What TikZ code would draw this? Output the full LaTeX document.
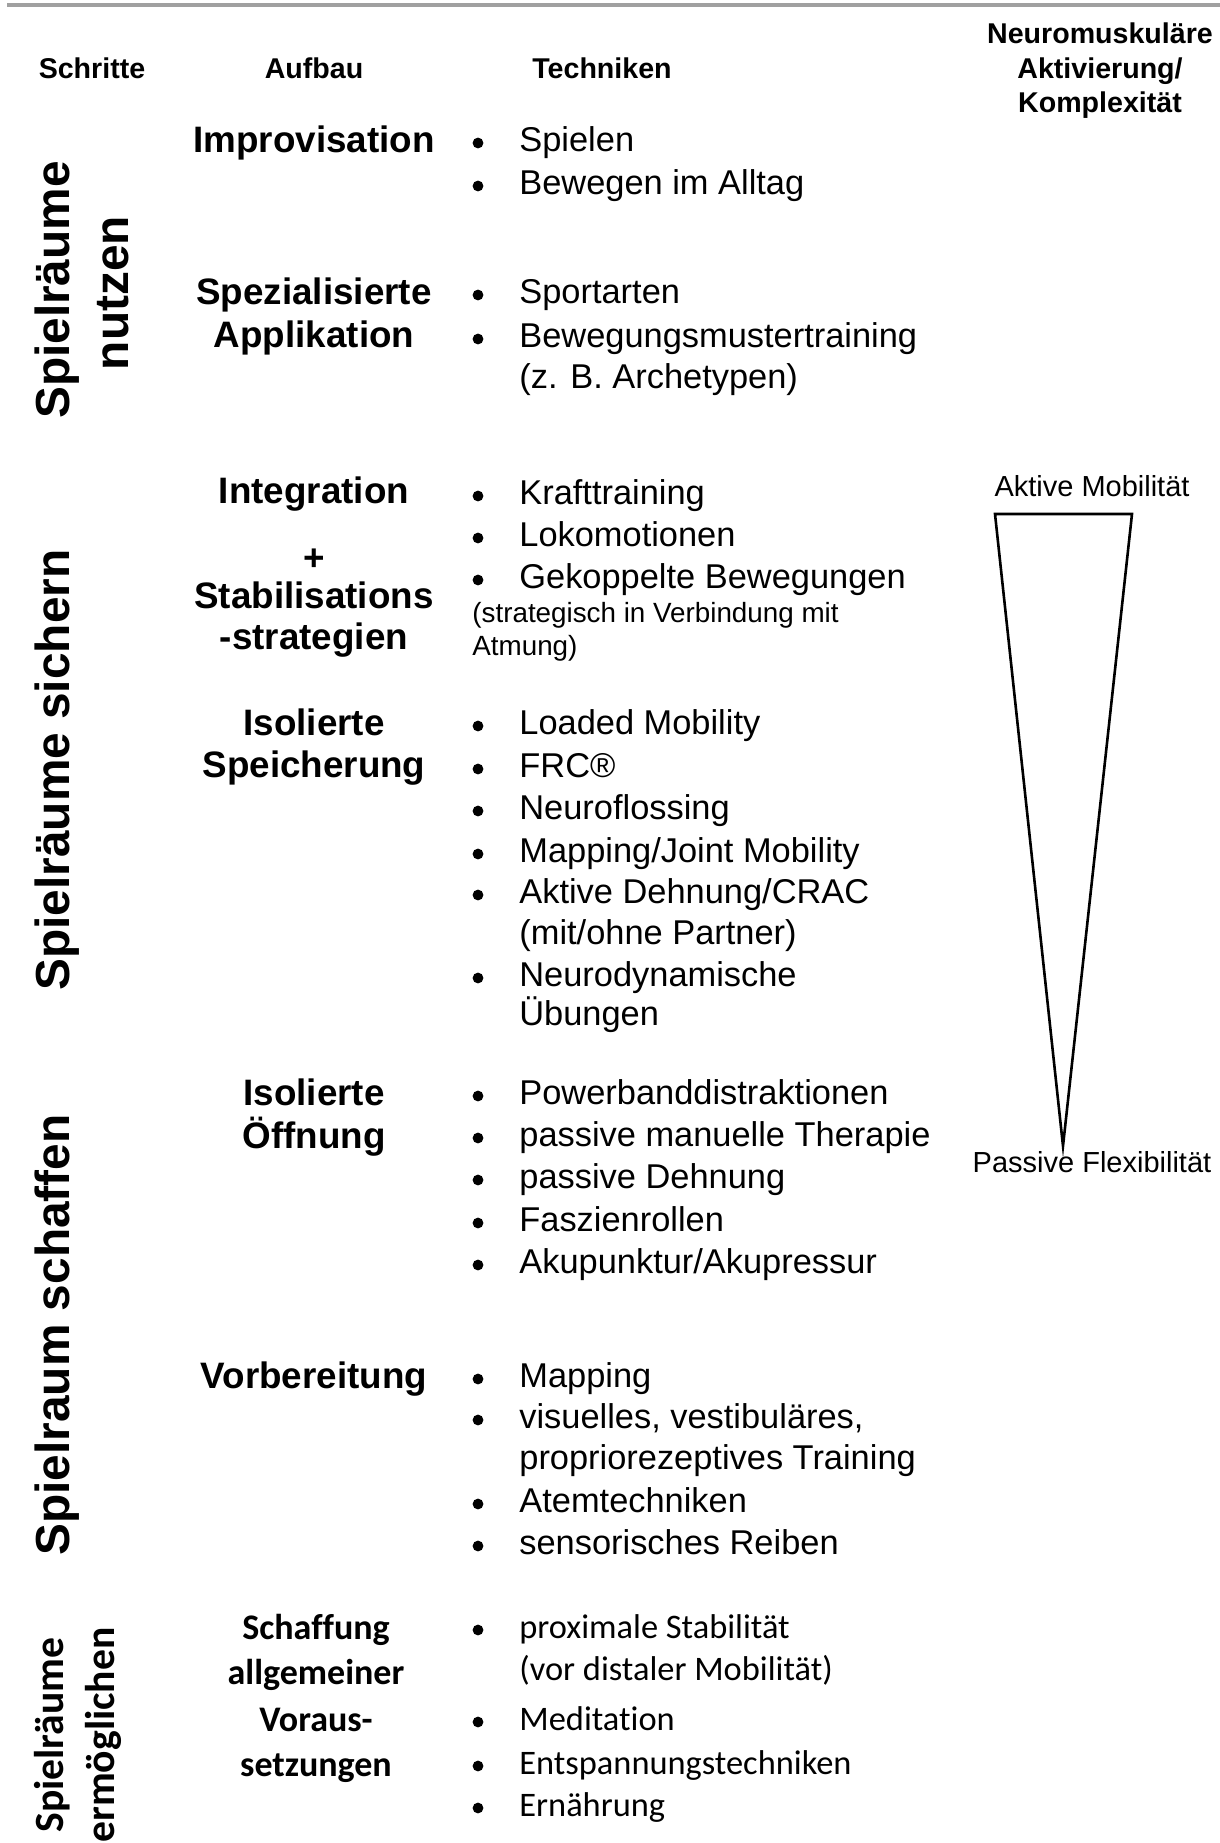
\documentclass[tikz,border=0pt]{standalone}
\usepackage{fontspec}
\setmainfont{Liberation Sans}
\newfontfamily\calibri[Ligatures=NoCommon]{Carlito}
\usetikzlibrary{positioning}
\definecolor{barGray}{HTML}{A0A0A0}

\begin{document}
\begin{tikzpicture}[x=0.5pt,y=-0.5pt,inner sep=0pt]

	\tikzset{head/.style={anchor=base, font=\fontsize{14.3}{17}\selectfont\bfseries}}
	\tikzset{stage/.style={anchor=base, rotate=90, font=\fontsize{23.9}{28}\selectfont\bfseries}}
	\tikzset{stage cal/.style={stage, font=\calibri\fontsize{20.8}{25}\selectfont\bfseries}}
	\tikzset{phase/.style={anchor=base, font=\fontsize{18.4}{22}\selectfont\bfseries}}
	\tikzset{phase cal/.style={phase, font=\calibri\fontsize{18}{22}\selectfont\bfseries}}
	\tikzset{tech/.style={anchor=base west, font=\fontsize{17.2}{21}\selectfont}}
	\tikzset{tech cal/.style={tech, font=\calibri\fontsize{17.2}{21}\selectfont}}
	\tikzset{note/.style={anchor=base west, font=\fontsize{13.9}{17}\selectfont}}
	\tikzset{pole/.style={anchor=base, font=\fontsize{14.5}{17}\selectfont}}
	\tikzset{dot/.style={circle, fill=black, minimum size=5.4pt}}

	\useasboundingbox (0,0) rectangle (1220,1843);
	\fill[barGray] (7,3) rectangle (1220,7);

	% column heads
	\node[head] (hSchritte) at (92,78) {Schritte};
	\node[head] (hAufbau) at (314,78) {Aufbau};
	\node[head] (hTechniken) at (602,78) {Techniken};
	\node[head] (hNeuro) at (1100,43) {Neuromuskuläre};
	\node[head] (hAktiv) at (1100,78) {Aktivierung/};
	\node[head] (hKomplex) at (1100,112) {Komplexität};

	% steps
	\node[stage] (s1a) at (69,290) {Spielräume};
	\node[stage] (s1b) at (128,293) {nutzen};
	\node[stage] (s2) at (69,770) {Spielräume sichern};
	\node[stage] (s3) at (69,1335) {Spielraum schaffen};
	\node[stage cal] (s4a) at (63,1735) {Spielräume};
	\node[stage cal] (s4b) at (114,1735) {ermöglichen};

	% build-up
	\foreach \y/\t [count=\i] in {152/Improvisation, 304/Spezialisierte, 347/Applikation,
		503/Integration, 570/+, 608/Stabilisations, 649/-strategien,
		735/Isolierte, 777/Speicherung, 1105/Isolierte, 1148/Öffnung, 1388/Vorbereitung} {
		\node[phase] (phase\i) at (314,\y) {\t};
	}
	\foreach \y/\t [count=\i] in {1639/Schaffung, 1684/allgemeiner, 1731/Voraus-, 1776/setzungen} {
		\node[phase cal] (pre\i) at (316,\y) {\t};
	}

	% techniques
	\foreach \y/\t [count=\i] in {151/Spielen, 194/{Bewegen im Alltag}, 303/Sportarten,
		347/Bewegungsmustertraining, 504/Krafttraining, 546/Lokomotionen,
		588/{Gekoppelte Bewegungen}, 734/{Loaded Mobility}, 777/{FRC®}, 819/Neuroflossing,
		862/{Mapping/Joint Mobility}, 903/{Aktive Dehnung/CRAC}, 986/Neurodynamische,
		1104/Powerbanddistraktionen, 1146/{passive manuelle Therapie}, 1188/{passive Dehnung},
		1231/Faszienrollen, 1273/{Akupunktur/Akupressur}, 1387/Mapping,
		1428/{visuelles, vestibuläres,}, 1512/Atemtechniken, 1554/{sensorisches Reiben}} {
		\node[dot] (dot\i) at (478,\y-8) {};
		\node[tech] (tech\i) at (519,\y) {\t};
	}
	\foreach \y/\t [count=\i] in {388/{(z. B. Archetypen)}, 944/{(mit/ohne Partner)},
		1025/Übungen, 1469/{propriorezeptives Training}} {
		\node[tech] (more\i) at (519,\y) {\t};
	}
	\node[note] (note1) at (472,622) {(strategisch in Verbindung mit};
	\node[note] (note2) at (472,655) {Atmung)};

	\foreach \y/\t [count=\i] in {1638/{proximale Stabilität}, 1730/Meditation,
		1774/Entspannungstechniken, 1816/Ernährung} {
		\node[dot] (pdot\i) at (478,\y-8) {};
		\node[tech cal] (pre tech\i) at (519,\y) {\t};
	}
	\node[tech cal] (pre more) at (519,1680) {(vor distaler Mobilität)};

	% activation wedge
	\coordinate (triL) at (995,514);
	\coordinate (triR) at (1132,514);
	\coordinate (triTip) at (1063,1146);
	\draw[line width=1.3pt] (triL) -- (triR) -- (triTip) -- cycle;
	\node[pole] (active) at (1092,496) {Aktive Mobilität};
	\node[pole] (passive) at (1092,1172) {Passive Flexibilität};

\end{tikzpicture}
\end{document}
